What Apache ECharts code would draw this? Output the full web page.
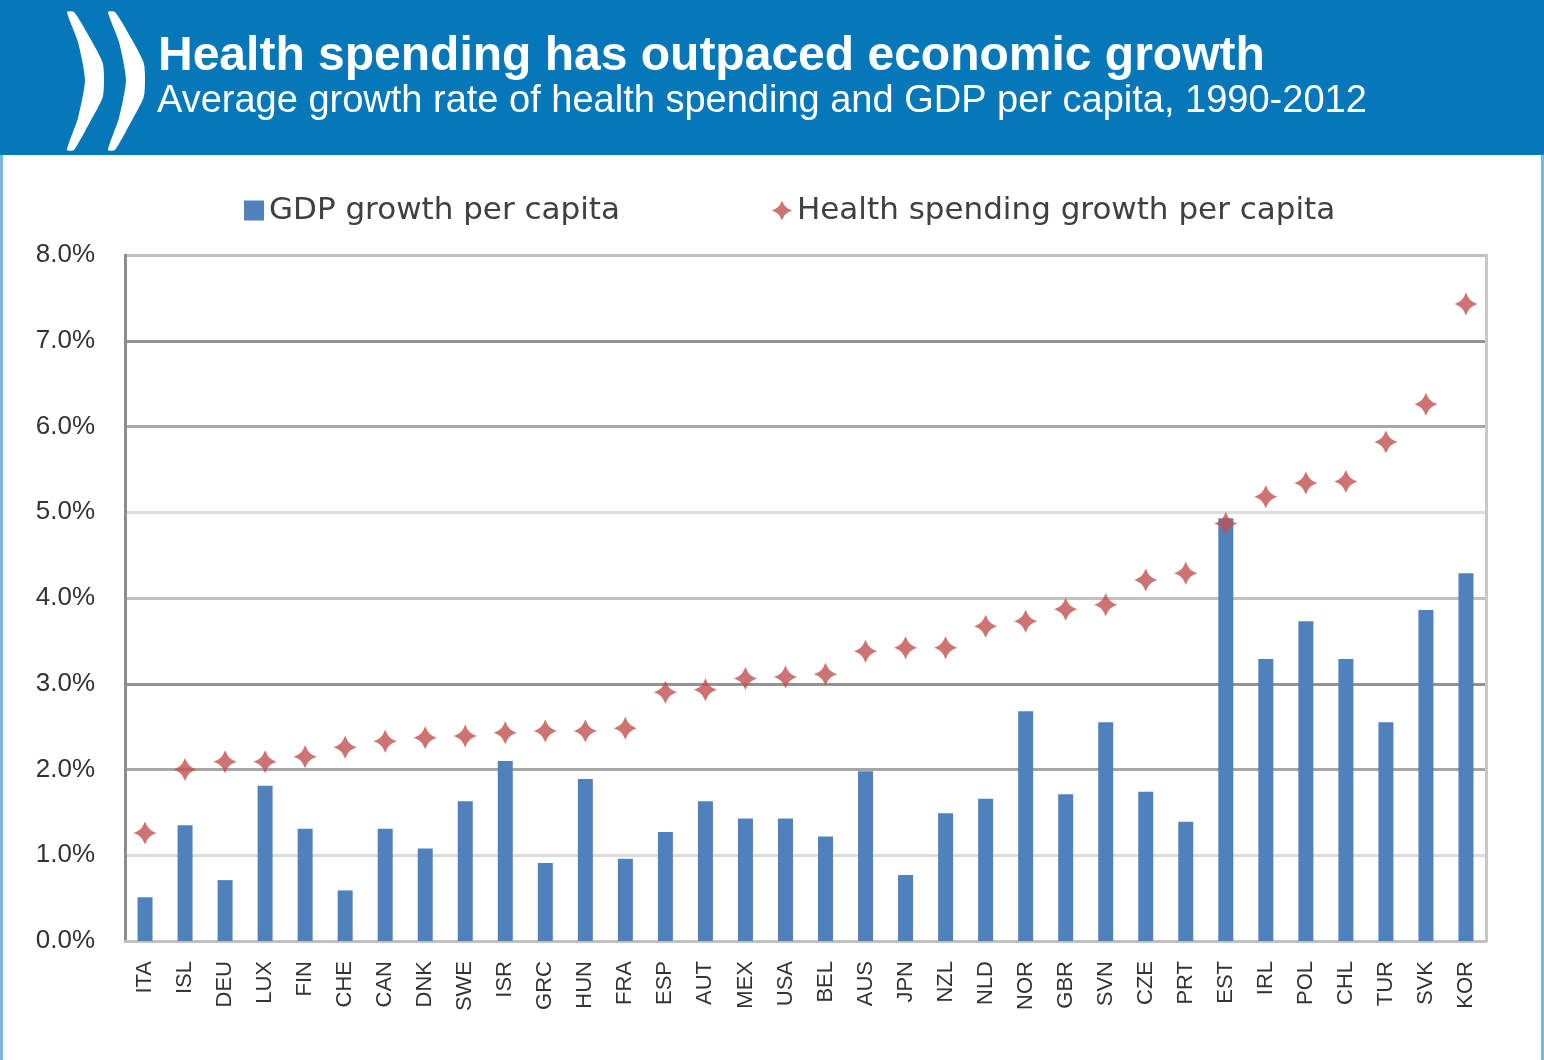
<!DOCTYPE html>
<html>
<head>
<meta charset="utf-8">
<script src="https://cdn.jsdelivr.net/npm/echarts@6/dist/echarts.min.js"></script>
<style>
html,body{margin:0;padding:0;background:#fff;}
#chart{width:1544px;height:1060px;}
</style>
</head>
<body>
<div id="chart"></div>
<script>
const categories = ['ITA','ISL','DEU','LUX','FIN','CHE','CAN','DNK','SWE','ISR','GRC','HUN','FRA','ESP','AUT','MEX','USA','BEL','AUS','JPN','NZL','NLD','NOR','GBR','SVN','CZE','PRT','EST','IRL','POL','CHL','TUR','SVK','KOR'];
const gdpGrowth = [0.51,1.35,0.71,1.81,1.31,0.59,1.31,1.08,1.63,2.10,0.91,1.89,0.96,1.27,1.63,1.43,1.43,1.22,1.98,0.77,1.49,1.66,2.68,1.71,2.55,1.74,1.39,4.93,3.29,3.73,3.29,2.55,3.86,4.29];
const healthGrowth = [1.26,2.00,2.09,2.09,2.15,2.26,2.33,2.37,2.39,2.43,2.45,2.45,2.48,2.90,2.93,3.06,3.08,3.11,3.38,3.42,3.42,3.67,3.73,3.87,3.92,4.21,4.29,4.87,5.18,5.34,5.36,5.82,6.26,7.43];
const yTicks = [0,1,2,3,4,5,6,7,8];
const seriesNames = ['GDP growth per capita','Health spending growth per capita'];
const titleText = 'Health spending has outpaced economic growth';
const subtitleText = 'Average growth rate of health spending and GDP per capita, 1990-2012';

const starPathFat = 'path://M0,-10 C2.5,-4 4,-2.5 10,0 C4,2.5 2.5,4 0,10 C-2.5,4 -4,2.5 -10,0 C-4,-2.5 -2.5,-4 0,-10 Z';

const chart = echarts.init(document.getElementById('chart'));
const font = 'Liberation Sans';
chart.setOption({
  backgroundColor: '#ffffff',
  animation: false,
  textStyle: {fontFamily: font},
  graphic: [
    {type:'rect', left:0, top:0, shape:{width:1544, height:155}, style:{fill:'#0678BA'}, z:-1},
    {type:'rect', left:0, top:155, shape:{width:3, height:905}, style:{fill:'#7AB8DC'}},
    {type:'rect', left:1541, top:155, shape:{width:3, height:905}, style:{fill:'#7AB8DC'}},
    {type:'polygon', shape:{points:[[67,12],[74,12],[90,38],[103,64],[103,96],[90,122],[74,150],[67,150],[78,118],[85,80],[78,42]], smooth:0.2}, style:{fill:'#ffffff'}},
    {type:'polygon', shape:{points:[[108,12],[115,12],[131,38],[144,64],[144,96],[131,122],[115,150],[108,150],[119,118],[126,80],[119,42]], smooth:0.2}, style:{fill:'#ffffff'}},
    {type:'text', left:158, top:33, style:{text:titleText, fill:'#ffffff', font:'bold 48px "Liberation Sans"'}},
    {type:'text', left:157, top:83, style:{text:subtitleText, fill:'#ffffff', font:'38px "Liberation Sans"'}}
  ],
  legend: {
    left: 239, top: 190,
    itemGap: 152,
    itemWidth: 20, itemHeight: 20,
    textStyle: {fontSize: 31, color: '#404040', fontFamily: 'DejaVu Sans'},
    data: [
      {name: seriesNames[0], icon: 'rect'},
      {name: seriesNames[1], icon: starPathFat, itemStyle:{color:'#C0504D'}}
    ]
  },
  grid: {left:125, right:58, top:255, bottom:119, containLabel:false},
  xAxis: {
    type: 'category',
    data: categories,
    axisLine: {show:true, lineStyle:{color:'#c0c0c0', width:3}},
    axisTick: {show:false},
    axisLabel: {rotate:90, fontSize:22, color:'#333333', margin:20, interval:0, fontFamily:font}
  },
  yAxis: [
    {
      type: 'value', min: yTicks[0], max: yTicks[yTicks.length-1], interval: 1,
      axisLine: {show:true, lineStyle:{color:'#8c8c8c', width:3}},
      axisTick: {show:false},
      axisLabel: {formatter: v => v.toFixed(1) + '%', fontSize: 26, color:'#333333', margin: 30, fontFamily: font},
      splitLine: {show:true, lineStyle:{color:['#c0c0c0','#dcdcdc','#a6a6a6','#939393'], width:3}}
    },
    {
      type: 'value', min: yTicks[0], max: yTicks[yTicks.length-1], interval: 1, position:'right',
      axisLine: {show:true, lineStyle:{color:'#c8c8c8', width:3}},
      axisTick: {show:false}, axisLabel: {show:false}, splitLine: {show:false}
    }
  ],
  series: [
    {
      name: seriesNames[0], type: 'bar', data: gdpGrowth, barWidth: 15,
      itemStyle: {color: '#4F81BD'}, z: 2
    },
    {
      name: seriesNames[1], type: 'scatter', data: healthGrowth,
      symbol: starPathFat, symbolSize: 23,
      itemStyle: {color: '#C0504D'}, z: 3
    }
  ]
});
</script>
</body>
</html>
